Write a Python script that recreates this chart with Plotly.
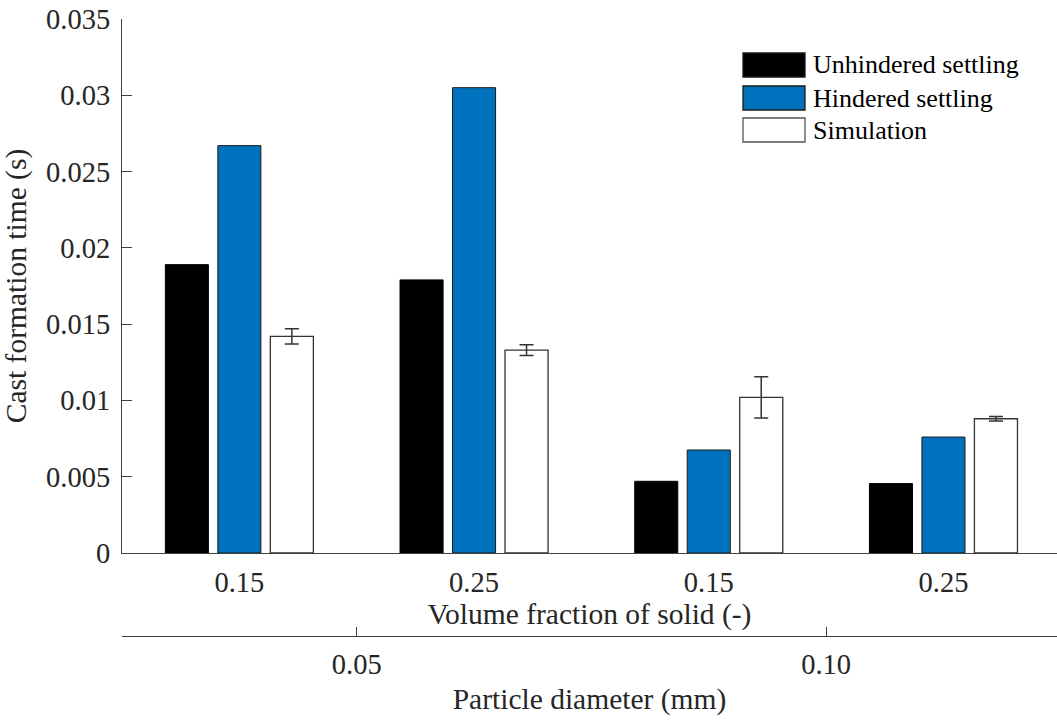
import plotly.graph_objects as go

# ---- data ----
positions = [1, 2, 3, 4]
fraction_labels = ["0.15", "0.25", "0.15", "0.25"]
diameter_positions = [1.5, 3.5]
diameter_labels = ["0.05", "0.10"]
unhindered = [0.0189, 0.0179, 0.0047, 0.00455]
hindered = [0.0267, 0.0305, 0.00675, 0.0076]
simulation = [0.0142, 0.0133, 0.0102, 0.0088]
simulation_err = [0.0005, 0.00035, 0.00135, 0.00015]
series_names = ["Unhindered settling", "Hindered settling", "Simulation"]
y_ticks = [0, 0.005, 0.01, 0.015, 0.02, 0.025, 0.03, 0.035]
y_ticklabels = ["0", "0.005", "0.01", "0.015", "0.02", "0.025", "0.03", "0.035"]

FONT = "Liberation Serif"
FS = 28.5
FS_TITLE = 29.5
FS_LEG = 26
TXT = "#262626"
AX = "#404040"
BLUE = "#0072BD"

W, H = 1057, 720
ML, MR, MT, MB = 122, 0, 19, 84
paper_h = H - MT - MB
paper_w = W - ML - MR
zero_px = 553
y_dom0 = (H - MB - zero_px) / paper_h

def px_x(p):
    return (p - ML) / paper_w

def px_y(p):
    return (H - MB - p) / paper_h

fig = go.Figure()
fig.add_trace(go.Bar(x=positions, y=unhindered, name=series_names[0],
                     marker=dict(color="black", line=dict(color="black", width=1))))
fig.add_trace(go.Bar(x=positions, y=hindered, name=series_names[1],
                     marker=dict(color=BLUE, line=dict(color="#1a1a1a", width=1))))
fig.add_trace(go.Bar(x=positions, y=simulation, name=series_names[2],
                     marker=dict(color="white", line=dict(color="#333333", width=1.3)),
                     error_y=dict(type="data", array=simulation_err, visible=True,
                                  color="#333333", thickness=1.5, width=7)))
# invisible trace to materialise the secondary (particle diameter) axis
fig.add_trace(go.Scatter(x=diameter_positions, y=[0, 0], xaxis="x2", mode="markers",
                         marker=dict(opacity=0), showlegend=False, hoverinfo="skip"))

xr = [0.5, 0.5 + paper_w / 234.7]

fig.update_layout(
    width=W, height=H,
    margin=dict(l=ML, r=MR, t=MT, b=MB),
    paper_bgcolor="white", plot_bgcolor="white",
    barmode="group", bargap=0.329, bargroupgap=0.18,
    showlegend=False,
    font=dict(family=FONT, size=FS, color=TXT),
    xaxis=dict(range=xr, tickvals=positions, ticktext=fraction_labels,
               showline=True, linecolor=AX, linewidth=1.3, ticks="",
               showgrid=False, zeroline=False, ticklabelstandoff=4,
               title=dict(text="Volume fraction of solid (-)", standoff=4,
                          font=dict(family=FONT, size=FS_TITLE, color=TXT)),
               anchor="y"),
    xaxis2=dict(range=xr, overlaying="x", anchor="free", position=0,
                tickvals=diameter_positions, ticktext=diameter_labels,
                showline=True, linecolor=AX, linewidth=1.3, ticks="inside",
                ticklen=9, tickcolor=AX, tickwidth=1.3,
                showgrid=False, zeroline=False, ticklabelstandoff=3,
                title=dict(text="Particle diameter (mm)", standoff=9,
                           font=dict(family=FONT, size=FS_TITLE, color=TXT)),
                side="bottom"),
    yaxis=dict(domain=[y_dom0, 1], range=[0, 0.035], tickvals=y_ticks,
               ticktext=y_ticklabels, showline=True, linecolor=AX, linewidth=1.3,
               ticks="inside", ticklen=10, tickcolor=AX, tickwidth=1.3,
               showgrid=False, zeroline=False, ticklabelstandoff=5,
               title=dict(text="Cast formation time (s)", standoff=12,
                          font=dict(family=FONT, size=FS_TITLE, color=TXT))),
)

# legend drawn as paper shapes + text
sw_x0, sw_x1 = px_x(743), px_x(805)
rows = [(53, 77), (86, 110), (118, 142)]
fills = ["black", BLUE, "white"]
edges = ["#1a1a1a", "#1a1a1a", "#555555"]
for (top, bot), fc, ec, name in zip(rows, fills, edges, series_names):
    fig.add_shape(type="rect", xref="paper", yref="paper",
                  x0=sw_x0, x1=sw_x1, y0=px_y(bot), y1=px_y(top),
                  fillcolor=fc, line=dict(color=ec, width=1.3))
    fig.add_annotation(xref="paper", yref="paper", x=px_x(811), y=px_y((top + bot) / 2),
                       text=name, showarrow=False, xanchor="left", yanchor="middle",
                       font=dict(family=FONT, size=FS_LEG, color="black"))

fig.write_html("out.html")
